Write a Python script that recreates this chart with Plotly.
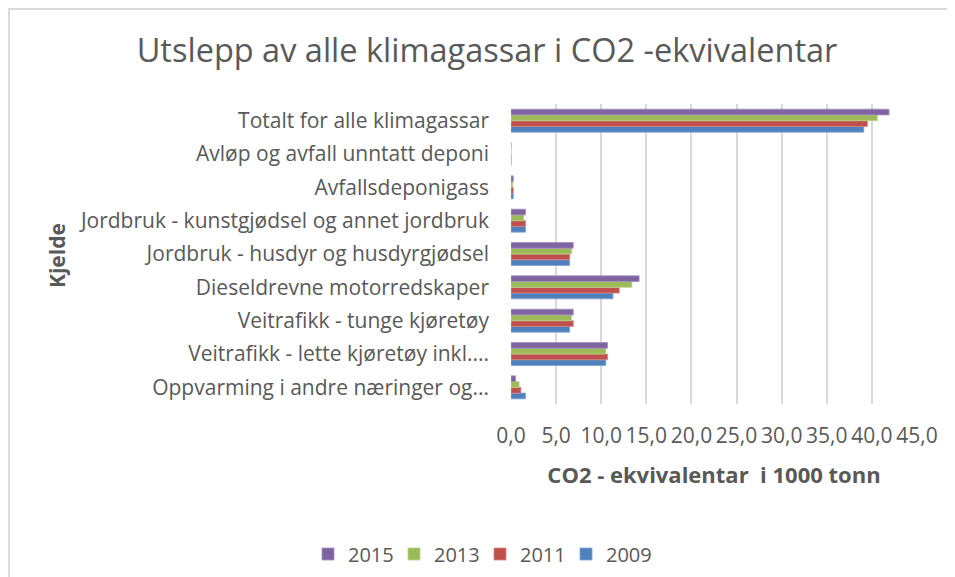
import plotly.graph_objects as go

# kategoriar, nedst først (slik dei står i diagrammet)
kjelder = [
    "Oppvarming i andre næringer og...",
    "Veitrafikk - lette kjøretøy inkl....",
    "Veitrafikk - tunge kjøretøy",
    "Dieseldrevne motorredskaper",
    "Jordbruk - husdyr og husdyrgjødsel",
    "Jordbruk - kunstgjødsel og annet jordbruk",
    "Avfallsdeponigass",
    "Avløp og avfall unntatt deponi",
    "Totalt for alle klimagassar",
]

aar = ["2009", "2011", "2013", "2015"]

# verdiar i 1000 tonn CO2-ekvivalentar, lest av figuren
v2009 = [1.6, 10.5, 6.5, 11.3, 6.5, 1.6, 0.25, 0.0, 39.1]
v2011 = [1.1, 10.7, 6.9, 12.0, 6.5, 1.6, 0.25, 0.0, 39.5]
v2013 = [0.9, 10.5, 6.7, 13.4, 6.7, 1.4, 0.2, 0.0, 40.6]
v2015 = [0.5, 10.7, 6.9, 14.2, 6.9, 1.6, 0.25, 0.0, 41.9]

fargar = ["#4F81BD", "#C0504D", "#9BBB59", "#8064A2"]
kantfargar = ["#7FA3D4", "#D98583", "#B9D38A", "#A38FC0"]

x_ticks = [0, 5, 10, 15, 20, 25, 30, 35, 40, 45]
x_tekst = ["0,0", "5,0", "10,0", "15,0", "20,0", "25,0", "30,0", "35,0", "40,0", "45,0"]

FONT = "Open Sans"
GRAA = "#595959"

fig = go.Figure()
for navn, verdiar, farge, kant in zip(aar, [v2009, v2011, v2013, v2015], fargar, kantfargar):
    fig.add_trace(go.Bar(
        y=kjelder, x=verdiar, name=navn, orientation="h",
        marker=dict(color=farge, line=dict(color=kant, width=0.8))))

# sida har 8 px marg rundt figuren, så alle mål er flytta 8 px
OFF = 8
# plotteområdet i pikslar (figur): x 503-909, y 96-396
L, R, T, B = 511 - OFF, 917 - OFF, 104 - OFF, 404 - OFF
def px(x):
    return (x - OFF - L) / (R - L)
def py(y):
    return (B - (y - OFF)) / (B - T)

fig.update_layout(
    width=955, height=577,
    margin=dict(l=L, r=955 - R, t=T, b=577 - B),
    paper_bgcolor="white", plot_bgcolor="white",
    barmode="group", bargap=0.31, bargroupgap=0,
    font=dict(family=FONT, color=GRAA, size=21),
    title=dict(text="Utslepp av alle klimagassar i CO2 -ekvivalentar",
               x=(487 - OFF) / 955, xref="container", xanchor="center",
               y=1 - (51 - OFF) / 577, yref="container", yanchor="middle",
               font=dict(size=32.5, color=GRAA, family=FONT)),
    xaxis=dict(range=[0, 45], tickvals=x_ticks, ticktext=x_tekst,
               showgrid=True, gridcolor="#D9D9D9", gridwidth=1.5,
               zeroline=False, showline=False, ticks="",
               tickfont=dict(size=21, color=GRAA), ticklabelstandoff=17,
               title=dict(text="<b>CO2 - ekvivalentar  i 1000 tonn</b>",
                          font=dict(size=22, color=GRAA), standoff=19)),
    yaxis=dict(categoryorder="array", categoryarray=kjelder,
               showgrid=False, zeroline=False, showline=False, ticks="",
               tickfont=dict(size=21, color=GRAA), ticklabelstandoff=21,
               automargin=False),
    legend=dict(orientation="h", traceorder="reversed",
                x=px(480), xanchor="center", y=py(554), yanchor="middle",
                font=dict(size=20, color=GRAA), itemwidth=30, entrywidth=41),
    showlegend=True,
)

fig.add_annotation(text="<b>Kjelde</b>", textangle=-90,
                   x=px(57), y=py(255), xref="paper", yref="paper",
                   xanchor="center", yanchor="middle",
                   showarrow=False, font=dict(size=21, color=GRAA))

# ramme rundt heile diagrammet
fig.add_shape(type="rect", xref="paper", yref="paper",
              x0=px(OFF + 1), x1=px(975), y0=py(600), y1=py(OFF + 1),
              line=dict(color="#DADADA", width=2), layer="below")

fig.write_html("out.html")
